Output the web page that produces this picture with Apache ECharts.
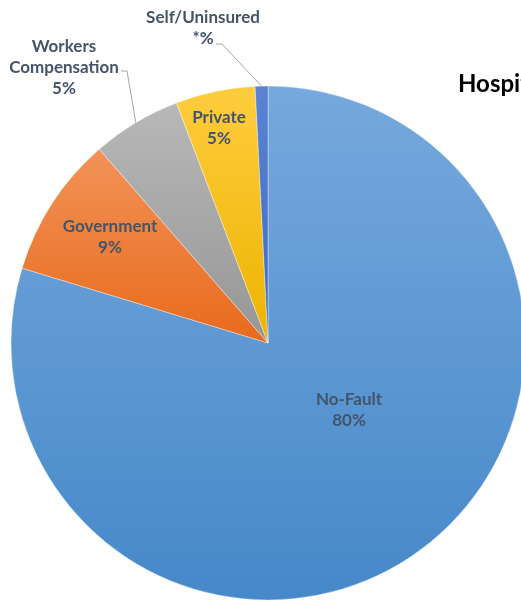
<!DOCTYPE html>
<html>
<head>
<meta charset="utf-8">
<script src="https://cdn.jsdelivr.net/npm/echarts@6/dist/echarts.min.js"></script>
<style>
html,body{margin:0;padding:0;background:#fff;}
#chart{width:521px;height:600px;}
</style>
</head>
<body>
<div id="chart"></div>
<script>
// ---- data ----
var categories = ['No-Fault', 'Government', 'Workers\nCompensation', 'Private', 'Self/Uninsured'];
var values = [79.7, 8.9, 5.6, 5.0, 0.8];
var percentLabels = ['80%', '9%', '5%', '5%', '*%'];
var titleText = 'Hospital';

// ---- styling / layout ----
var gradients = [
  ['#76a9dd', '#4688c9'],
  ['#f29358', '#e86a1c'],
  ['#b8b8b8', '#969696'],
  ['#ffcc3e', '#ecb400'],
  ['#5a84d2', '#3e6bc0']
];
var labelPos = [
  {x: 349, y: 410, inside: true},
  {x: 110, y: 237, inside: true},
  {x: 64, y: 68, inside: false, elbow: [127, 71], end: [121, 71]},
  {x: 219, y: 128, inside: true},
  {x: 203, y: 28, inside: false, elbow: [222, 44], end: [216, 44]}
];

var chart = echarts.init(document.getElementById('chart'), null, {renderer: 'canvas'});

var seriesData = categories.map(function (c, i) {
  return {
    name: c,
    value: values[i],
    itemStyle: {
      color: new echarts.graphic.LinearGradient(0, 0, 0, 1, [
        {offset: 0, color: gradients[i][0]},
        {offset: 1, color: gradients[i][1]}
      ])
    },
    label: {position: labelPos[i].inside ? 'inside' : 'outside'},
    labelLine: {show: !labelPos[i].inside}
  };
});

chart.setOption({
  animation: false,
  title: {
    text: titleText,
    left: 453,
    top: 67,
    textStyle: {fontFamily: 'Lato', fontWeight: 'bold', fontSize: 24, color: '#000'}
  },
  series: [{
    type: 'pie',
    center: [268, 343],
    radius: 257,
    startAngle: 90,
    clockwise: true,
    avoidLabelOverlap: false,
    data: seriesData,
    itemStyle: {borderColor: 'rgba(255,255,255,0.6)', borderWidth: 0.6},
    label: {
      show: true,
      formatter: function (p) { return p.name + '\n' + percentLabels[p.dataIndex]; },
      fontFamily: 'Lato',
      fontWeight: 'bold',
      fontSize: 17,
      lineHeight: 21,
      color: '#44546A',
      align: 'center'
    },
    labelLine: {
      show: true,
      lineStyle: {color: '#a6a6a6', width: 1}
    },
    labelLayout: function (params) {
      var lp = labelPos[params.dataIndex];
      var res = {x: lp.x, y: lp.y, align: 'center', verticalAlign: 'middle'};
      if (!lp.inside && params.labelLinePoints) {
        res.labelLinePoints = [params.labelLinePoints[0], lp.elbow, lp.end];
      }
      return res;
    },
    emphasis: {disabled: true}
  }]
});
</script>
</body>
</html>
